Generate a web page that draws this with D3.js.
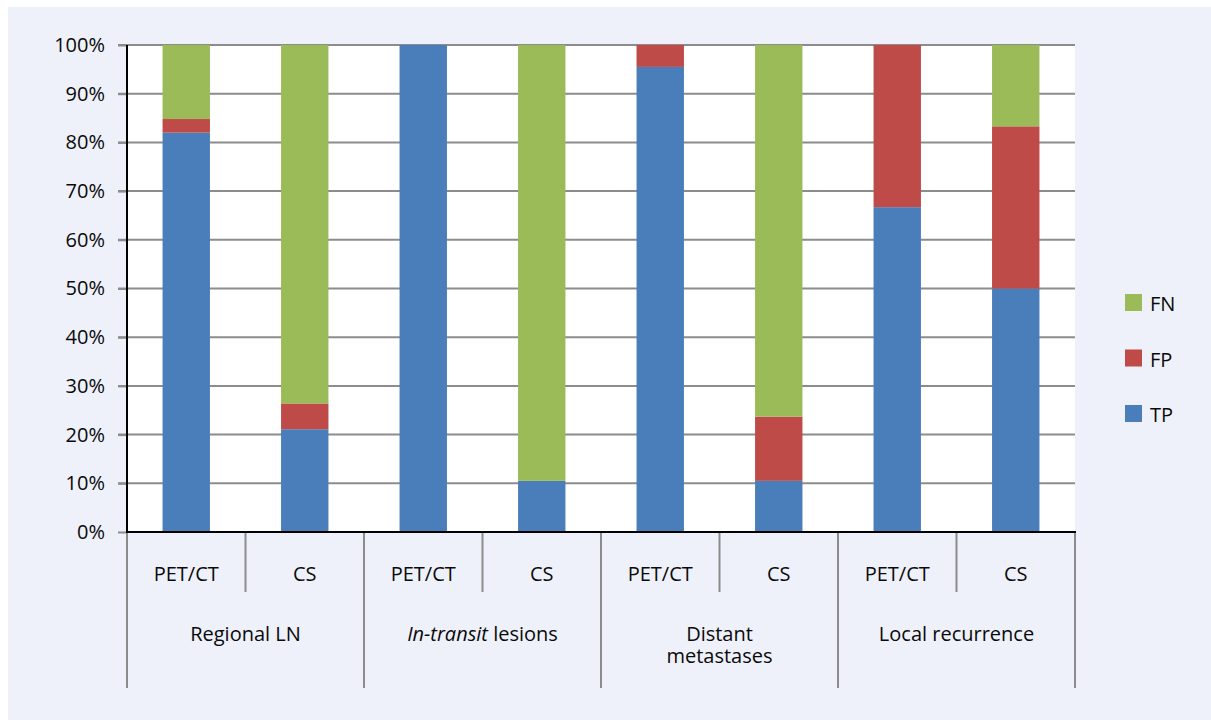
<!DOCTYPE html>
<html>
<head>
<meta charset="utf-8">
<script src="https://cdn.jsdelivr.net/npm/d3@7"></script>
<style>
  html, body { margin: 0; padding: 0; background: #ffffff; }
  svg { display: block; font-family: "Open Sans", "Noto Sans", sans-serif; }
</style>
</head>
<body>
<svg id="chart" width="1211" height="720"></svg>
<script>
// Groups and the two methods compared within each group
const groups = ["Regional LN", "In-transit lesions", "Distant metastases", "Local recurrence"];
const methods = ["PET/CT", "CS"];
const seriesKeys = ["TP", "FP", "FN"];

// Percentages per bar (group × method order)
const tpValues = [82.0, 21.1, 100, 10.5, 95.5, 10.5, 66.7, 50.0];
const fpValues = [2.8, 5.3, 0, 0, 4.5, 13.2, 33.3, 33.3];
const fnValues = [15.2, 73.6, 0, 89.5, 0, 76.3, 0, 16.7];

const yTicks = [0, 10, 20, 30, 40, 50, 60, 70, 80, 90, 100];
const colors = { TP: "#4a7ebb", FP: "#be4b48", FN: "#9bbb59" };

const FONT_SIZE = "20px";
const TEXT_COLOR = "#0a0a0a";

const svg = d3.select("#chart");
const W = 1211, H = 720;
const plot = { left: 127, top: 45, right: 1075, bottom: 532 };

// background panel
svg.append("rect").attr("x", 0).attr("y", 0).attr("width", W).attr("height", H).attr("fill", "#ffffff");
svg.append("rect").attr("x", 8).attr("y", 7).attr("width", W - 8).attr("height", H - 7).attr("fill", "#eef1f9");
svg.append("rect").attr("x", plot.left).attr("y", plot.top)
  .attr("width", plot.right - plot.left).attr("height", plot.bottom - plot.top).attr("fill", "#ffffff");

// build rows
const rows = [];
groups.forEach((g, gi) => methods.forEach((m, mi) => {
  const i = gi * methods.length + mi;
  rows.push({ key: g + "|" + m, group: g, method: m, TP: tpValues[i], FP: fpValues[i], FN: fnValues[i] });
}));

const x = d3.scaleBand().domain(rows.map(d => d.key))
  .range([plot.left, plot.right]).paddingInner(0.6).paddingOuter(0.3);
const y = d3.scaleLinear().domain([0, 100]).range([plot.bottom, plot.top]);

// gridlines
svg.append("g").selectAll("line").data(yTicks.filter(t => t > 0)).join("line")
  .attr("x1", plot.left - 9).attr("x2", plot.right)
  .attr("y1", d => y(d)).attr("y2", d => y(d))
  .attr("stroke", "#8c8c8c").attr("stroke-width", 2);

// stacked bars
const stack = d3.stack().keys(seriesKeys)(rows);
svg.append("g").selectAll("g").data(stack).join("g")
  .attr("fill", s => colors[s.key])
  .selectAll("rect").data(s => s).join("rect")
  .attr("x", d => x(d.data.key))
  .attr("width", x.bandwidth())
  .attr("y", d => y(d[1]))
  .attr("height", d => Math.max(0, y(d[0]) - y(d[1])));

// y axis
const yAxis = d3.axisLeft(y).tickValues(yTicks).tickFormat(d => d + "%").tickSize(9).tickPadding(13);
const gy = svg.append("g").attr("transform", `translate(${plot.left},0)`).call(yAxis);
gy.select(".domain").remove();
gy.selectAll(".tick line").attr("stroke", "#8c8c8c").attr("stroke-width", 2);
gy.selectAll(".tick text").attr("fill", TEXT_COLOR).style("font-size", FONT_SIZE)
  .style("font-family", "'Open Sans', 'Noto Sans', sans-serif");
svg.append("line").attr("x1", plot.left).attr("x2", plot.left)
  .attr("y1", plot.top).attr("y2", plot.bottom + 1)
  .attr("stroke", "#000").attr("stroke-width", 2);

// category axis: dividers
const boundaries = d3.range(rows.length + 1).map(i => plot.left + i * (plot.right - plot.left) / rows.length);
svg.append("g").selectAll("line").data(boundaries).join("line")
  .attr("x1", d => d).attr("x2", d => d)
  .attr("y1", plot.bottom)
  .attr("y2", (d, i) => (i % methods.length === 0 ? 688 : 592))
  .attr("stroke", "#8c8c8c").attr("stroke-width", 2);

svg.append("line").attr("x1", plot.left - 1).attr("x2", plot.right + 1)
  .attr("y1", plot.bottom).attr("y2", plot.bottom)
  .attr("stroke", "#000").attr("stroke-width", 2);

// method labels
svg.append("g").selectAll("text").data(rows).join("text")
  .attr("x", d => x(d.key) + x.bandwidth() / 2)
  .attr("y", 581)
  .attr("text-anchor", "middle")
  .attr("fill", TEXT_COLOR).style("font-size", FONT_SIZE)
  .text(d => d.method);

// group labels
const groupW = (plot.right - plot.left) / groups.length;
const gl = svg.append("g").selectAll("text").data(groups).join("text")
  .attr("x", (d, i) => plot.left + groupW * (i + 0.5))
  .attr("y", 641)
  .attr("text-anchor", "middle")
  .attr("fill", TEXT_COLOR).style("font-size", FONT_SIZE);
gl.each(function (d) {
  const t = d3.select(this);
  if (d === "In-transit lesions") {
    t.append("tspan").style("font-style", "italic").text("In-transit");
    t.append("tspan").text(" lesions");
  } else if (d === "Distant metastases") {
    t.append("tspan").attr("x", t.attr("x")).text("Distant");
    t.append("tspan").attr("x", t.attr("x")).attr("dy", 22).text("metastases");
  } else {
    t.text(d);
  }
});

// legend
const legendKeys = ["FN", "FP", "TP"];
const lg = svg.append("g").selectAll("g").data(legendKeys).join("g")
  .attr("transform", (d, i) => `translate(1125,${294 + i * 55.5})`);
lg.append("rect").attr("width", 17).attr("height", 17).attr("fill", d => colors[d]);
lg.append("text").attr("x", 25).attr("y", 17).attr("fill", TEXT_COLOR).style("font-size", FONT_SIZE).text(d => d);
</script>
</body>
</html>
